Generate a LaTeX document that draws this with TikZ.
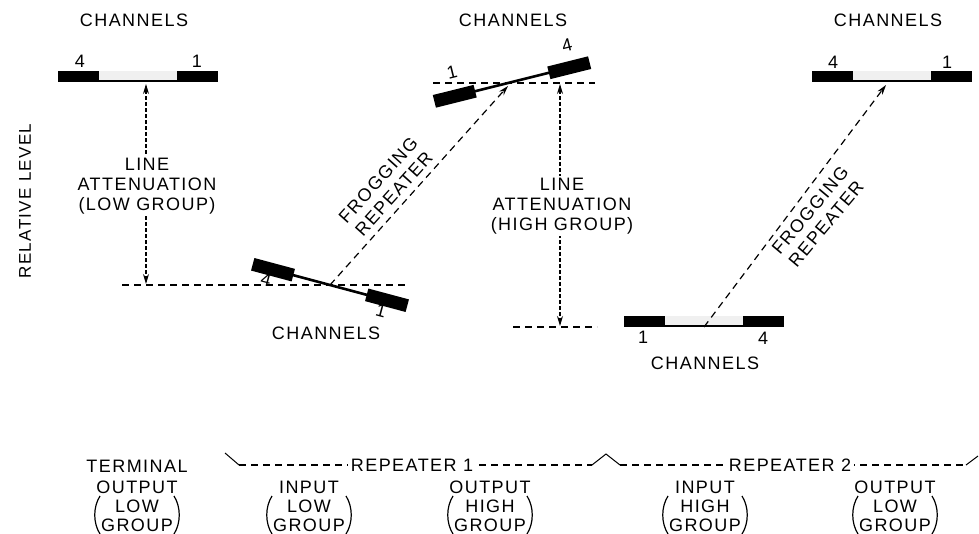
\documentclass[tikz,border=0pt]{standalone}
\usepackage{fontspec}
\setmainfont{Liberation Sans}[LetterSpace=8]
\usetikzlibrary{arrows.meta}
\begin{document}
\begin{tikzpicture}[x=1pt,y=-1pt,
  lbl/.style={font=\fontsize{18}{20}\selectfont, inner sep=0pt, align=center},
  dsh/.style={dash pattern=on 7pt off 5pt, line width=1.2pt},
  vdsh/.style={dash pattern=on 3.5pt off 2.5pt, line width=1.1pt},
  uptip/.style={-{Stealth[length=10pt,width=6pt]}},
  dbltip/.style={{Stealth[length=10pt,width=6pt]}-{Stealth[length=10pt,width=6pt]}},
  pics/hbar/.style={code={
    \fill[black!6] (-39,-11) rectangle (39,0);
    \fill (-80,-11) rectangle (-39,0);
    \fill (39,-11) rectangle (80,0);
    \draw[line width=1.6pt] (-39,-0.8) -- (39,-0.8);
  }},
  pics/tbar/.style={code={
    \fill (-80,-6.5) rectangle (-38,6.5);
    \fill (38,-6.5) rectangle (80,6.5);
    \draw[line width=2.6pt] (-39,0) -- (39,0);
  }},
  pics/prn/.style={code={
    \draw[line width=1.2pt] (-#1+3,-19) .. controls (-#1-4,-8) and (-#1-4,8) .. (-#1+3,19);
    \draw[line width=1.2pt] (#1-3,-19) .. controls (#1+4,-8) and (#1+4,8) .. (#1-3,19);
  }}
]
\useasboundingbox (0,0) rectangle (979,534);

% bar centres
\coordinate (b1) at (137.5,82);
\coordinate (b2) at (330,285);
\coordinate (b3) at (512,82);
\coordinate (b4) at (892,82);
\coordinate (b5) at (704,327);

% bars
\pic at (b1) {hbar};
\pic[rotate=-15] at (b2) {tbar};
\pic[rotate=14] at (b3) {tbar};
\pic at (b4) {hbar};
\pic at (b5) {hbar};

% reference dashed levels
\coordinate (h1a) at (122,285); \coordinate (h1b) at (405,285);
\coordinate (h2a) at (433,83);  \coordinate (h2b) at (595,83);
\coordinate (h3a) at (513,327); \coordinate (h3b) at (597,327);
\draw[dsh] (h1a) -- (h1b);
\draw[dsh] (h2a) -- (h2b);
\draw[dsh] (h3a) -- (h3b);

% line attenuation arrows
\coordinate (a1t) at (146,84);  \coordinate (a1b) at (146,284);
\coordinate (a2t) at (560,84);  \coordinate (a2b) at (560,326);
\draw[vdsh,dbltip] (a1t) -- (a1b);
\draw[vdsh,dbltip] (a2t) -- (a2b);
\node[lbl,fill=white,inner sep=2pt] (la1) at (147,186) {LINE\\ATTENUATION\\(LOW GROUP)};
\node[lbl,fill=white,inner sep=2pt] (la2) at (562,206) {LINE\\ATTENUATION\\(HIGH GROUP)};

% frogging repeater arrows
\coordinate (f1e) at (508,86);
\coordinate (f2e) at (886,85);
\draw[dsh,uptip] (b2) -- (f1e);
\draw[dsh,uptip] (b5) -- (f2e);
\node[lbl,rotate=48,font=\fontsize{18}{21}\selectfont] (fr1) at (386,187) {FROGGING\\REPEATER};
\node[lbl,rotate=50,font=\fontsize{18}{21}\selectfont] (fr2) at (818,217) {FROGGING\\REPEATER};

% channel labels
\node[lbl] (c1) at (134,20) {CHANNELS};
\node[lbl] (c2) at (513,20) {CHANNELS};
\node[lbl] (c3) at (888,20) {CHANNELS};
\node[lbl] (c4) at (326,333) {CHANNELS};
\node[lbl] (c5) at (705,363) {CHANNELS};

% channel numbers
\node[lbl] (n1a) at (80,61) {4};
\node[lbl] (n1b) at (197,61) {1};
\node[lbl,rotate=-15] (n2a) at (266,280) {4};
\node[lbl,rotate=-15] (n2b) at (381,311) {1};
\node[lbl,rotate=14] (n3a) at (452,72) {1};
\node[lbl,rotate=14] (n3b) at (567,45) {4};
\node[lbl] (n4a) at (833,62) {4};
\node[lbl] (n4b) at (947,62) {1};
\node[lbl] (n5a) at (643,337) {1};
\node[lbl] (n5b) at (763,338) {4};

% axis label
\node[lbl,rotate=90,font=\fontsize{17}{19}\selectfont] (rl) at (25,201) {RELATIVE LEVEL};

% repeater bracket
\draw[line width=1pt] (225,453) -- (239,465);
\draw[line width=1pt] (592,465) -- (606,454) -- (620,465);
\draw[line width=1pt] (966,465) -- (978,456);
\draw[dsh] (239,465) -- (592,465);
\draw[dsh] (620,465) -- (966,465);
\node[lbl,fill=white,inner xsep=3pt,inner ysep=1pt] (rp1) at (412,465) {REPEATER 1};
\node[lbl,fill=white,inner xsep=3pt,inner ysep=1pt] (rp2) at (790,465) {REPEATER 2};

% stage labels
\node[lbl] (t0) at (137,466) {TERMINAL};
\node[lbl] (t1) at (137,487) {OUTPUT};
\node[lbl] (t2) at (137,506) {LOW};
\node[lbl] (t3) at (137,525) {GROUP};
\pic at (137,515) {prn=40};

\node[lbl] (i1) at (309,487) {INPUT};
\node[lbl] (i2) at (309,506) {LOW};
\node[lbl] (i3) at (309,525) {GROUP};
\pic at (309,515) {prn=40};

\node[lbl] (o1) at (490,487) {OUTPUT};
\node[lbl] (o2) at (490,506) {HIGH};
\node[lbl] (o3) at (490,525) {GROUP};
\pic at (490,515) {prn=40};

\node[lbl] (j1) at (705,487) {INPUT};
\node[lbl] (j2) at (705,506) {HIGH};
\node[lbl] (j3) at (705,525) {GROUP};
\pic at (705,515) {prn=40};

\node[lbl] (p1) at (895,487) {OUTPUT};
\node[lbl] (p2) at (895,506) {LOW};
\node[lbl] (p3) at (895,525) {GROUP};
\pic at (895,515) {prn=40};
\end{tikzpicture}
\end{document}
